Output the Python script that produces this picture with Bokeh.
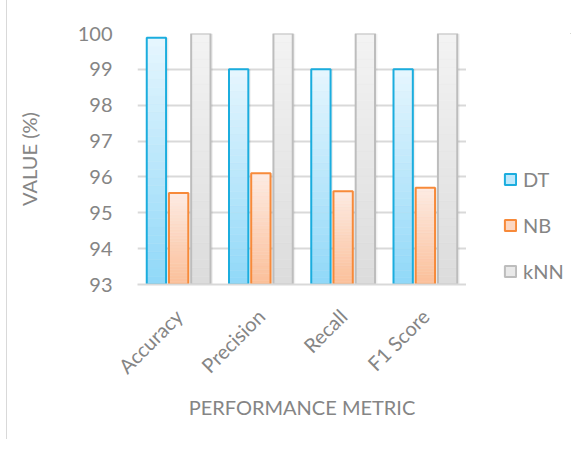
import math
from bokeh.plotting import figure
from bokeh.layouts import row
from bokeh.models import FactorRange, Range1d, Legend, LegendItem, ColumnDataSource, FixedTicker
from bokeh.transform import dodge
from bokeh.embed import file_html
from bokeh.resources import INLINE

# ---- data ----
metrics = ["Accuracy", "Precision", "Recall", "F1 Score"]
dt_values = [99.88, 99.0, 99.0, 99.0]
nb_values = [95.55, 96.1, 95.6, 95.7]
knn_values = [100.0, 100.0, 100.0, 100.0]
series_names = ["DT", "NB", "kNN"]
y_ticks = [93, 94, 95, 96, 97, 98, 99, 100]
y_min, y_max = 93, 100

FONT = "Lato"
GREY_TXT = "#858585"

# styles per series: (offset, top colour, bottom colour, outline)
styles = [
    (-0.27, "#e6f6fe", "#90d8f8", "#1badde"),
    (0.0, "#fdebe3", "#fbbf99", "#f78a3a"),
    (0.27, "#f3f3f3", "#dcdcdc", "#bdbdbd"),
]
BAR_W = 0.235

H = 439
TOP, BOTTOM = 33, 155


def mix(c1, c2, t):
    a = [int(c1[i:i + 2], 16) for i in (1, 3, 5)]
    b = [int(c2[i:i + 2], 16) for i in (1, 3, 5)]
    return "#%02x%02x%02x" % tuple(round(a[j] + (b[j] - a[j]) * t) for j in range(3))


p = figure(
    width=459, height=H,
    x_range=FactorRange(*metrics),
    y_range=Range1d(y_min, y_max),
    output_backend="svg", toolbar_location=None,
    min_border_left=130, min_border_right=0,
    min_border_top=TOP, min_border_bottom=BOTTOM,
)
p.outline_line_color = None
p.background_fill_color = "white"
p.border_fill_color = "white"

N = 30
for name, vals, (off, ctop, cbot, cline) in zip(series_names, [dt_values, nb_values, knn_values], styles):
    base = ColumnDataSource(dict(x=metrics, top=vals))
    xd = dodge("x", off, range=p.x_range)
    # soft shadow
    p.vbar(x=dodge("x", off + 0.03, range=p.x_range), top="top", bottom=y_min, width=BAR_W,
           source=base, fill_color="#000000", fill_alpha=0.06, line_color=None)
    # gradient bands
    bx, bb, bt, bc = [], [], [], []
    for m, v in zip(metrics, vals):
        for k in range(N):
            bx.append(m)
            bb.append(y_min + (v - y_min) * k / N)
            bt.append(y_min + (v - y_min) * (k + 1) / N)
            bc.append(mix(cbot, ctop, (k + 0.5) / N))
    bands = ColumnDataSource(dict(x=bx, bottom=bb, top=bt, color=bc))
    p.vbar(x=dodge("x", off, range=p.x_range), top="top", bottom="bottom", width=BAR_W,
           source=bands, fill_color="color", line_color="color", line_width=0.5)
    p.vbar(x=xd, top="top", bottom=y_min, width=BAR_W, source=base,
           fill_color=None, line_color=cline, line_width=2)

# axes
p.yaxis.ticker = FixedTicker(ticks=y_ticks)
p.yaxis.axis_line_color = None
p.yaxis.major_tick_line_color = None
p.yaxis.minor_tick_line_color = None
p.yaxis.major_label_standoff = 19
p.yaxis.major_label_text_font = FONT
p.yaxis.major_label_text_font_size = "20px"
p.yaxis.major_label_text_color = GREY_TXT
p.yaxis.axis_label = "VALUE (%)"
p.yaxis.axis_label_text_font = FONT
p.yaxis.axis_label_text_font_size = "20px"
p.yaxis.axis_label_text_font_style = "normal"
p.yaxis.axis_label_text_color = GREY_TXT
p.yaxis.axis_label_standoff = 34

p.xaxis.axis_line_color = "#d9d9d9"
p.xaxis.axis_line_width = 2
p.xaxis.major_tick_line_color = None
p.xaxis.minor_tick_line_color = None
p.xaxis.major_label_orientation = math.pi / 4
p.xaxis.major_label_standoff = 22
p.xaxis.major_label_text_font = FONT
p.xaxis.major_label_text_font_size = "20px"
p.xaxis.major_label_text_color = GREY_TXT
p.xaxis.axis_label = "PERFORMANCE METRIC"
p.xaxis.axis_label_text_font = FONT
p.xaxis.axis_label_text_font_size = "20px"
p.xaxis.axis_label_text_font_style = "normal"
p.xaxis.axis_label_text_color = GREY_TXT
p.xaxis.axis_label_standoff = 6

p.xgrid.grid_line_color = None
p.ygrid.grid_line_color = "#d9d9d9"
p.ygrid.grid_line_width = 2

# ---- legend panel (separate figure so the legend can sit right of the plot) ----
q = figure(
    width=105, height=H, x_range=Range1d(0, 1), y_range=Range1d(0, 1),
    output_backend="svg", toolbar_location=None,
    x_axis_type=None, y_axis_type=None,
    min_border_left=0, min_border_right=0,
    min_border_top=TOP, min_border_bottom=BOTTOM,
)
q.outline_line_color = None
q.xgrid.grid_line_color = None
q.ygrid.grid_line_color = None
q.border_fill_color = "white"

items = []
for name, (off, ctop, cbot, cline) in zip(series_names, styles):
    # proxy renderer placed outside the visible range: only its legend swatch shows
    src = ColumnDataSource(dict(x=[5.0], top=[6.0], bottom=[5.0]))
    r = q.vbar(x="x", top="top", bottom="bottom", width=0.1, source=src,
               fill_color=mix(cbot, ctop, 0.55), line_color=cline, line_width=2)
    items.append(LegendItem(label=name, renderers=[r]))

legend = Legend(items=items, location=(37, 1), orientation="vertical")
legend.background_fill_alpha = 0
legend.border_line_color = None
legend.padding = 0
legend.margin = 0
legend.glyph_width = 14
legend.glyph_height = 14
legend.label_standoff = 6
legend.label_text_font = FONT
legend.label_text_font_size = "20px"
legend.label_text_color = GREY_TXT
legend.spacing = 22
q.add_layout(legend)

layout = row(p, q)
layout.styles = {"border-left": "1px solid #d9d9d9", "margin-left": "6px"}

open("out.html", "w").write(file_html(layout, INLINE))
